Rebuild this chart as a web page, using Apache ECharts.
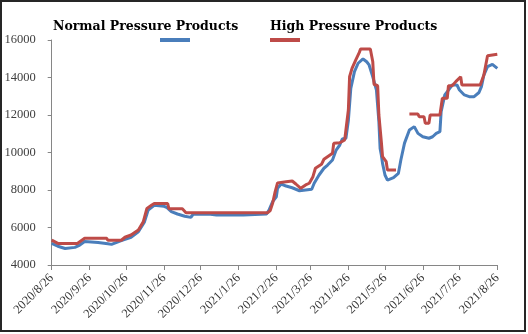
<!DOCTYPE html>
<html><head><meta charset="utf-8">
<script src="https://cdn.jsdelivr.net/npm/echarts@6/dist/echarts.min.js"></script>
<style>html,body{margin:0;padding:0;background:#fff}#c{width:528px;height:334px}</style>
</head><body><div id="c"></div><script>
const seriesNames = ['Normal Pressure Products', 'High Pressure Products'];
const tickLabels = ['2020/8/26','2020/9/26','2020/10/26','2020/11/26','2020/12/26','2021/1/26','2021/2/26','2021/3/26','2021/4/26','2021/5/26','2021/6/26','2021/7/26','2021/8/26'];
const yTicks = [4000, 16000, 2000];

const normalPoints = [
['2020/8/26',5150],['2020/8/31',5000],['2020/9/6',4880],['2020/9/14',4940],['2020/9/18',5060],
['2020/9/22',5250],['2020/10/3',5200],['2020/10/11',5130],['2020/10/14',5100],['2020/10/22',5300],
['2020/10/30',5480],['2020/11/5',5770],['2020/11/10',6300],['2020/11/13',6930],['2020/11/18',7180],
['2020/11/26',7130],['2020/11/28',7080],['2020/12/2',6850],['2020/12/7',6720],['2020/12/13',6600],
['2020/12/18',6540],['2020/12/20',6720],['2021/1/3',6710],['2021/1/8',6670],['2021/1/30',6670],
['2021/2/18',6720],['2021/2/20',6930],['2021/2/23',7380],['2021/2/26',7640],['2021/2/27',8090],
['2021/3/2',8320],['2021/3/6',8210],['2021/3/11',8120],['2021/3/17',7960],['2021/3/22',8000],
['2021/3/27',8040],['2021/3/29',8360],['2021/4/2',8800],['2021/4/6',9160],['2021/4/9',9330],
['2021/4/13',9600],['2021/4/16',10130],['2021/4/19',10400],['2021/4/21',10720],['2021/4/24',10760],
['2021/4/26',11700],['2021/4/28',13420],['2021/5/1',14310],['2021/5/4',14760],['2021/5/8',14990],
['2021/5/11',14840],['2021/5/13',14670],['2021/5/16',14040],['2021/5/19',13330],['2021/5/21',11640],
['2021/5/22',10220],['2021/5/23',9870],['2021/5/24',9420],['2021/5/26',8800],['2021/5/28',8530],
['2021/6/2',8660],['2021/6/6',8890],['2021/6/8',9600],['2021/6/11',10500],['2021/6/15',11200],
['2021/6/19',11380],['2021/6/22',11020],['2021/6/26',10840],['2021/7/1',10760],['2021/7/4',10840],
['2021/7/7',11020],['2021/7/10',11110],['2021/7/11',12180],['2021/7/14',13070],['2021/7/17',13330],
['2021/7/20',13600],['2021/7/24',13600],['2021/7/26',13330],['2021/7/30',13070],['2021/8/3',12980],
['2021/8/7',12980],['2021/8/11',13200],['2021/8/13',13510],['2021/8/15',14130],['2021/8/18',14580],
['2021/8/22',14700],['2021/8/26',14490]
];

const highPoints = [
['2020/8/26',5330],['2020/8/31',5150],['2020/9/16',5150],['2020/9/22',5430],['2020/10/10',5430],
['2020/10/11',5320],['2020/10/22',5320],['2020/10/25',5480],['2020/10/30',5600],['2020/11/5',5870],
['2020/11/9',6300],['2020/11/12',7020],['2020/11/16',7200],['2020/11/18',7280],['2020/11/29',7280],
['2020/11/30',7000],['2020/12/11',7000],['2020/12/14',6790],['2021/2/19',6790],['2021/2/21',6900],
['2021/2/23',7300],['2021/2/25',7900],['2021/2/27',8380],['2021/3/6',8440],['2021/3/11',8480],
['2021/3/14',8320],['2021/3/18',8090],['2021/3/22',8270],['2021/3/25',8360],['2021/3/28',8710],
['2021/3/30',9160],['2021/4/4',9370],['2021/4/6',9640],['2021/4/11',9870],['2021/4/13',9960],
['2021/4/14',10490],['2021/4/19',10520],['2021/4/23',10670],['2021/4/24',11200],['2021/4/26',12270],
['2021/4/27',14040],['2021/4/29',14490],['2021/5/2',14930],['2021/5/5',15340],['2021/5/6',15520],
['2021/5/14',15520],['2021/5/16',14840],['2021/5/17',13640],['2021/5/20',13560],['2021/5/21',12000],
['2021/5/23',10580],['2021/5/24',9780],['2021/5/27',9510],['2021/5/28',9070],['2021/6/4',9070],
['2021/6/5',null],
['2021/6/15',12050],['2021/6/22',12050],['2021/6/23',11910],['2021/6/27',11910],['2021/6/28',11560],
['2021/7/1',11560],['2021/7/2',12000],['2021/7/10',12000],['2021/7/12',12890],['2021/7/16',12890],
['2021/7/17',13560],['2021/7/20',13560],['2021/7/23',13780],['2021/7/27',14040],['2021/7/28',13600],
['2021/8/12',13600],['2021/8/15',14130],['2021/8/18',15160],['2021/8/19',15240],['2021/8/26',15240]
];

// daily category axis from first to last tick label
const dates = [];
(function(){
  const d = new Date(2020, 7, 26), end = new Date(2021, 7, 26);
  while (d <= end) { dates.push(d.getFullYear() + '/' + (d.getMonth() + 1) + '/' + d.getDate()); d.setDate(d.getDate() + 1); }
})();
const isTick = (i, v) => tickLabels.indexOf(v) >= 0;

const chart = echarts.init(document.getElementById('c'), null, {renderer: 'canvas'});
const axisColor = '#868686';
const legendText = {fontFamily: 'DejaVu Serif', fontWeight: 'bold', fontSize: 12.5, color: '#000'};
chart.setOption({
  animation: false,
  backgroundColor: '#fff',
  graphic: [{type: 'rect', shape: {x: 1, y: 1, width: 524, height: 330}, style: {fill: 'none', stroke: '#262626', lineWidth: 2}, silent: true}],
  legend: [
    {data: [seriesNames[0]], left: 42, top: 15, icon: 'rect', itemWidth: 1, itemHeight: 1, itemStyle: {opacity: 0}, lineStyle: {opacity: 0}, textStyle: legendText},
    {data: [seriesNames[1]], left: 259, top: 15, icon: 'rect', itemWidth: 1, itemHeight: 1, itemStyle: {opacity: 0}, lineStyle: {opacity: 0}, textStyle: legendText},
    {data: seriesNames, left: 155, top: 33, icon: 'rect', itemWidth: 30, itemHeight: 4, itemGap: 80, formatter: () => '', textStyle: {fontSize: 1}}
  ],
  grid: {left: 51.7, right: 30.7, top: 40, bottom: 69, containLabel: false},
  xAxis: {
    type: 'category', data: dates, boundaryGap: false,
    axisLine: {lineStyle: {color: axisColor, width: 1}},
    axisTick: {show: true, interval: isTick, length: 5, lineStyle: {color: axisColor}},
    axisLabel: {interval: isTick, rotate: 45, fontFamily: 'Liberation Serif', fontSize: 12.5, color: '#333', margin: 11},
    splitLine: {show: false}
  },
  yAxis: {
    type: 'value', min: yTicks[0], max: yTicks[1], interval: yTicks[2],
    axisLine: {show: true, lineStyle: {color: axisColor, width: 1}},
    axisTick: {show: true, length: 4, lineStyle: {color: axisColor}},
    axisLabel: {fontFamily: 'Liberation Serif', fontSize: 12.5, color: '#404040', margin: 16, formatter: v => String(v)},
    splitLine: {show: false}
  },
  series: [
    {name: seriesNames[0], type: 'line', data: normalPoints, showSymbol: false, symbol: 'none', connectNulls: false,
     itemStyle: {color: '#4a7ebb'}, lineStyle: {color: '#4a7ebb', width: 3}},
    {name: seriesNames[1], type: 'line', data: highPoints, showSymbol: false, symbol: 'none', connectNulls: false,
     itemStyle: {color: '#be4b48'}, lineStyle: {color: '#be4b48', width: 3}}
  ]
});
</script></body></html>
